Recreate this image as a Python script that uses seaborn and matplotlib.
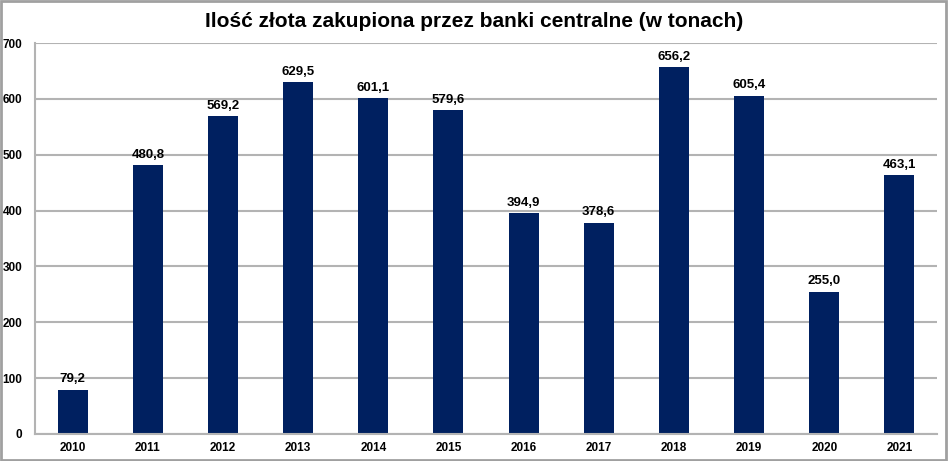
import numpy as np
import pandas as pd
import matplotlib.pyplot as plt
import seaborn as sns

# dane z wykresu
lata = ['2010', '2011', '2012', '2013', '2014', '2015',
        '2016', '2017', '2018', '2019', '2020', '2021']
tony = [79.2, 480.8, 569.2, 629.5, 601.1, 579.6,
        394.9, 378.6, 656.2, 605.4, 255.0, 463.1]
y_ticks = [0, 100, 200, 300, 400, 500, 600, 700]

df = pd.DataFrame({'rok': lata, 'tony': tony})

sns.set_style('white')
plt.rcParams['font.family'] = ['Liberation Sans', 'DejaVu Sans']
plt.rcParams['text.color'] = 'black'
plt.rcParams['xtick.color'] = 'black'
plt.rcParams['ytick.color'] = 'black'

fig = plt.figure(figsize=(9.48, 4.61), dpi=100)
ax = fig.add_axes([0.037, 0.0586, 0.9514, 0.8481])

sns.barplot(data=df, x='rok', y='tony', color='#002060', width=0.4,
            saturation=1, linewidth=0, ax=ax)

ax.set_ylim(0, 700)
ax.set_xlim(-0.5, len(lata) - 0.5)
ax.set_yticks(y_ticks)
ax.yaxis.grid(True, color='#b3b3b3', linewidth=1.5)
ax.set_axisbelow(True)
ax.set_xlabel('')
ax.set_ylabel('')

for s in ['top', 'right']:
    ax.spines[s].set_visible(False)
for s in ['left', 'bottom']:
    ax.spines[s].set_color('#b3b3b3')
    ax.spines[s].set_linewidth(1.5)

ax.tick_params(axis='y', length=5, color='#b3b3b3', width=1.2, labelsize=8.5, pad=4,
               labelcolor='black')
ax.tick_params(axis='x', which='major', length=0, labelsize=8.5, pad=6, labelcolor='black')
ax.set_xticks(np.arange(-0.5, len(lata), 1), minor=True)
ax.tick_params(axis='x', which='minor', length=4, color='#b3b3b3', width=1.2)
for lab in ax.get_xticklabels() + ax.get_yticklabels():
    lab.set_fontweight('bold')

for i, v in enumerate(tony):
    ax.text(i, v + 8, f'{v:.1f}'.replace('.', ','), ha='center', va='bottom',
            fontsize=9.5, fontweight='bold', color='black')

fig.suptitle('Ilość złota zakupiona przez banki centralne (w tonach)',
             fontsize=15, fontweight='bold', y=0.975, color='black')

# ramka wokół całego obrazka
fig.patches.append(plt.Rectangle((0.001, 0.002), 0.997, 0.995, transform=fig.transFigure,
                                 fill=False, edgecolor='#a0a0a0', linewidth=2))

fig.savefig('out.png', dpi=100)
